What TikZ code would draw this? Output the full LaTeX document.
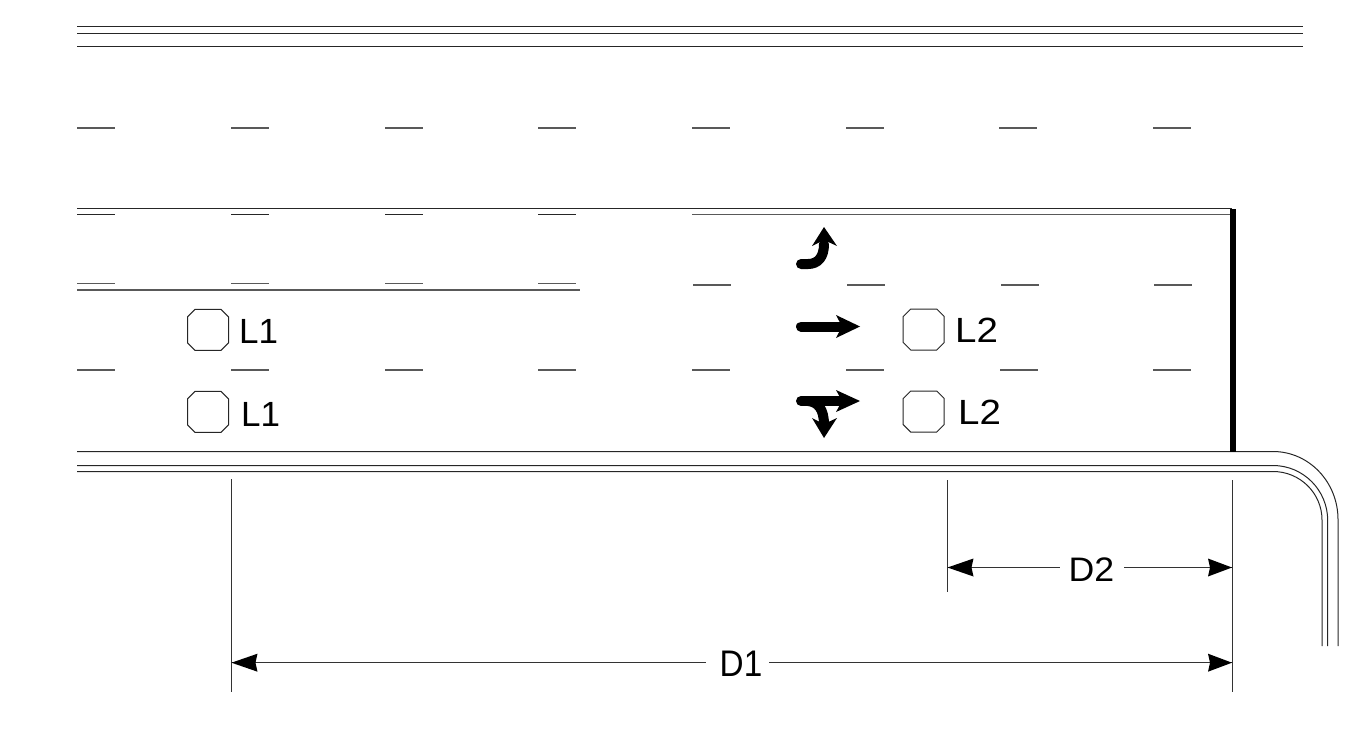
\documentclass[tikz,border=0pt]{standalone}
\usepackage{fontspec}
\setmainfont{Liberation Sans}
\begin{document}
\begin{tikzpicture}[x=1pt,y=-1pt,
  roadline/.style={line width=1pt,black!85},
  softline/.style={line width=1.1pt,black!65},
  dimline/.style={line width=1pt,black!80},
  stopbar/.style={line width=6pt,black},
  thickshaft/.style={line width=10pt,black,line cap=round},
  tiphead/.style={fill=black,draw=none},
  signal/.style={line width=1pt,black!85,fill=white},
  lbl/.style={inner sep=0pt,anchor=base west,font=\fontsize{35}{35}\selectfont,black},
  dimlbl/.style={inner sep=0pt,anchor=base,font=\fontsize{34}{34}\selectfont,black},
  dimlbltall/.style={inner sep=0pt,anchor=base,font=\fontsize{37}{37}\selectfont,black}]
\useasboundingbox (0,0) rectangle (1370,728);
% top edge lines
\foreach \y in {26.5,33.5,46.5} \draw[roadline] (77,\y) -- (1303,\y);
% upper lane dashes
\foreach \x in {77,231,385,538,692,846,999,1153} \draw[softline] (\x,128) -- +(38,0);
% median line and left pieces
\draw[roadline] (77,208.5) -- (1232,208.5);
\foreach \x in {77,231,385,538} {
  \draw[roadline] (\x,214.5) -- +(38,0);
  \draw[softline] (\x,283.5) -- +(38,0);
  \draw[softline] (\x,370) -- +(38,0);
}
\draw[softline] (692,214.5) -- (1232,214.5);
\draw[softline] (77,290) -- (580,290);
\foreach \x in {693,847,1001,1154} \draw[softline] (\x,285) -- +(38,0);
\foreach \x in {692,846,1000,1153} \draw[softline] (\x,370) -- +(38,0);
% curb with corner
\draw[roadline] (77,451.5) -- (1273,451.5) arc[start angle=-90,end angle=0,x radius=65,y radius=68] -- (1338,646);
\draw[roadline] (77,465.5) -- (1273,465.5) arc[start angle=-90,end angle=0,x radius=54.7,y radius=55] -- (1327.7,646);
\draw[roadline] (77,471.5) -- (1273,471.5) arc[start angle=-90,end angle=0,x radius=49,y radius=48.5] -- (1322,646);
% stop bar
\draw[stopbar] (1232.7,209) -- (1232.7,452);
% signals
\foreach \cx/\cy in {208/329.8,208/411.8,923.7/329.5,923.7/411.5}
  \draw[signal] (\cx-20.5,\cy-13) -- (\cx-13,\cy-20.5) -- (\cx+13,\cy-20.5) -- (\cx+20.5,\cy-13) -- (\cx+20.5,\cy+13) -- (\cx+13,\cy+20.5) -- (\cx-13,\cy+20.5) -- (\cx-20.5,\cy+13) -- cycle;
\node[lbl] (l1a) at (239,343) {L1};
\node[lbl] (l1b) at (241,426) {L1};
\node[lbl] (l2a) at (955,342) {\scalebox{1.1}[1]{L2}};
\node[lbl] (l2b) at (958,424) {\scalebox{1.1}[1]{L2}};
% lane arrows
\draw[thickshaft] (801,264) -- (808,264) .. controls (818,264) and (824,257) .. (824,244);
\fill[tiphead] (824,227) -- (837,246) -- (824,240) -- (812,246) -- cycle;
\draw[thickshaft] (801,326.5) -- (842,326.5);
\fill[tiphead] (860,326.5) -- (836,315) -- (842,326.5) -- (836,338) -- cycle;
\draw[thickshaft] (801,401) -- (842,401);
\fill[tiphead] (860,401) -- (836,390) -- (842,401) -- (836,412) -- cycle;
\draw[thickshaft,line cap=butt] (808,401) .. controls (818,402) and (824,409) .. (824,425);
\fill[tiphead] (824,438) -- (837,418) -- (824,424) -- (812,418) -- cycle;
% dimensions
\coordinate (e1t) at (231.5,479);
\coordinate (e1b) at (231.5,692);
\coordinate (e2t) at (947.5,480);
\coordinate (e2b) at (947.5,592);
\coordinate (e3t) at (1232,480);
\coordinate (e3b) at (1232,692);
\draw[dimline] (e1t) -- (e1b);
\draw[dimline] (e2t) -- (e2b);
\draw[dimline] (e3t) -- (e3b);
\node[dimlbltall] (d1) at (741,676) {\scalebox{.9}[1]{D1}};
\node[dimlbl] (d2) at (1091.5,581) {\scalebox{1.05}[1]{D2}};
\coordinate (d1l) at (706,662.7);
\coordinate (d1r) at (769,662.7);
\coordinate (d2l) at (1060,567.5);
\coordinate (d2r) at (1124,567.5);
\coordinate (a1) at (231.5,662.7);
\coordinate (a2) at (1232,662.7);
\coordinate (a3) at (947.5,567.5);
\coordinate (a4) at (1232,567.5);
\draw[dimline] (a1) -- (d1l);
\draw[dimline] (d1r) -- (a2);
\draw[dimline] (a3) -- (d2l);
\draw[dimline] (d2r) -- (a4);
\fill[tiphead] (a1) -- +(26,-9) -- +(24,0) -- +(26,9) -- cycle;
\fill[tiphead] (a3) -- +(26,-9) -- +(24,0) -- +(26,9) -- cycle;
\fill[tiphead] (a2) -- +(-24,-9) -- +(-22,0) -- +(-24,9) -- cycle;
\fill[tiphead] (a4) -- +(-24,-9) -- +(-22,0) -- +(-24,9) -- cycle;
\end{tikzpicture}
\end{document}
